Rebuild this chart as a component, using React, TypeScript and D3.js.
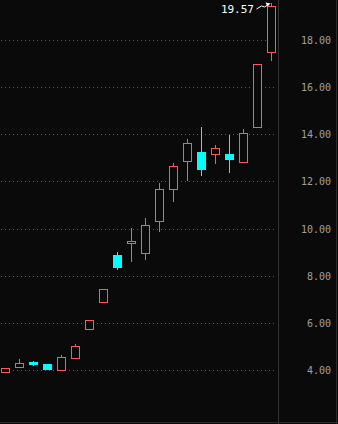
import React from "react";
import * as d3 from "d3";

const W = 338;
const H = 424;

const opens = [3.9, 4.11, 4.34, 4.25, 4.01, 4.52, 5.75, 6.9, 8.88, 9.39, 8.98, 10.33, 11.67, 12.85, 13.25, 13.15, 13.18, 12.84, 14.32, 17.5];
const closes = [4.07, 4.28, 4.22, 4.0, 4.55, 5.02, 6.12, 7.44, 8.33, 9.47, 10.15, 11.68, 12.64, 13.62, 12.5, 13.4, 12.93, 14.04, 16.97, 19.44];
const highs = [4.07, 4.46, 4.39, 4.25, 4.64, 5.1, 6.12, 7.44, 9.0, 10.02, 10.45, 11.93, 12.77, 13.79, 14.31, 13.54, 13.96, 14.21, 16.97, 19.57];
const lows = [3.9, 4.11, 4.16, 4.0, 4.01, 4.52, 5.75, 6.86, 8.24, 8.58, 8.67, 9.87, 11.11, 12.03, 12.22, 12.73, 12.37, 12.78, 14.32, 17.12];
const yTicks = [4, 6, 8, 10, 12, 14, 16, 18];
const maxLabel = "19.57";

const RED = "#ff5a5a";
const CYAN = "#00ffff";
const BG = "#0a0a0a";

export default function App() {
  const idx = opens.map((_, i) => i);
  const x = d3.scaleLinear().domain([0, idx.length - 1]).range([5.5, 271.5]);
  const y = d3.scaleLinear().domain([4, 18]).range([370, 40]);
  const axisX = 278.5;
  const half = 4;
  const snap = (v: number) => Math.round(v) + 0.5;

  const maxIdx = highs.indexOf(d3.max(highs) as number);
  const mx = x(maxIdx);
  const my = y(highs[maxIdx]);

  return (
    <svg width={W} height={H} style={{ position: "fixed", left: 0, top: 0, display: "block" }}>
      <rect x={0} y={0} width={W} height={H} fill={BG} />
      {yTicks.map((t) => (
        <g key={t}>
          <line x1={1} x2={axisX - 2} y1={snap(y(t))} y2={snap(y(t))} stroke="#5a5a5a" strokeWidth={1} strokeDasharray="1 3" />
          <text x={331} y={y(t) + 4} textAnchor="end" fill="#a0a0a0" fontFamily="DejaVu Sans Mono, monospace" fontSize={10}>
            {t.toFixed(2)}
          </text>
        </g>
      ))}
      <line x1={axisX} x2={axisX} y1={0} y2={H} stroke="#333" strokeWidth={1} />
      <line x1={336.5} x2={336.5} y1={0} y2={H} stroke="#2a2a2a" strokeWidth={1} />
      <line x1={0} x2={W} y1={422.5} y2={422.5} stroke="#2a2a2a" strokeWidth={1} />
      {idx.map((i) => {
        const up = closes[i] >= opens[i];
        const col = up ? RED : CYAN;
        const cx = x(i);
        const top = Math.round(y(Math.max(opens[i], closes[i])));
        const bot = Math.round(y(Math.min(opens[i], closes[i])));
        const hy = Math.round(y(highs[i]));
        const ly = Math.round(y(lows[i]));
        return (
          <g key={i}>
            <line x1={cx} x2={cx} y1={hy} y2={ly} stroke={col} strokeWidth={1} />
            {up ? (
              <rect x={cx - half} y={top + 0.5} width={half * 2} height={Math.max(bot - top, 1)} fill={BG} stroke={col} strokeWidth={1} />
            ) : (
              <rect x={cx - half - 0.5} y={top} width={half * 2 + 1} height={Math.max(bot - top, 1)} fill={col} />
            )}
          </g>
        );
      })}
      <text x={mx - 17.5} y={my + 10.5} textAnchor="end" fill="#ffffff" fontFamily="DejaVu Sans Mono, monospace" fontSize={11}>
        {maxLabel}
      </text>
      <path d={`M${mx - 15},${my + 6} L${mx - 10},${my + 3} L${mx - 7},${my + 4} L${mx - 3},${my + 1.5}`} fill="none" stroke="#ffffff" strokeWidth={1} />
      <path d={`M${mx - 1},${my + 0.5} L${mx - 6},${my - 0.5} L${mx - 4},${my + 3.5} Z`} fill="#ffffff" />
    </svg>
  );
}
